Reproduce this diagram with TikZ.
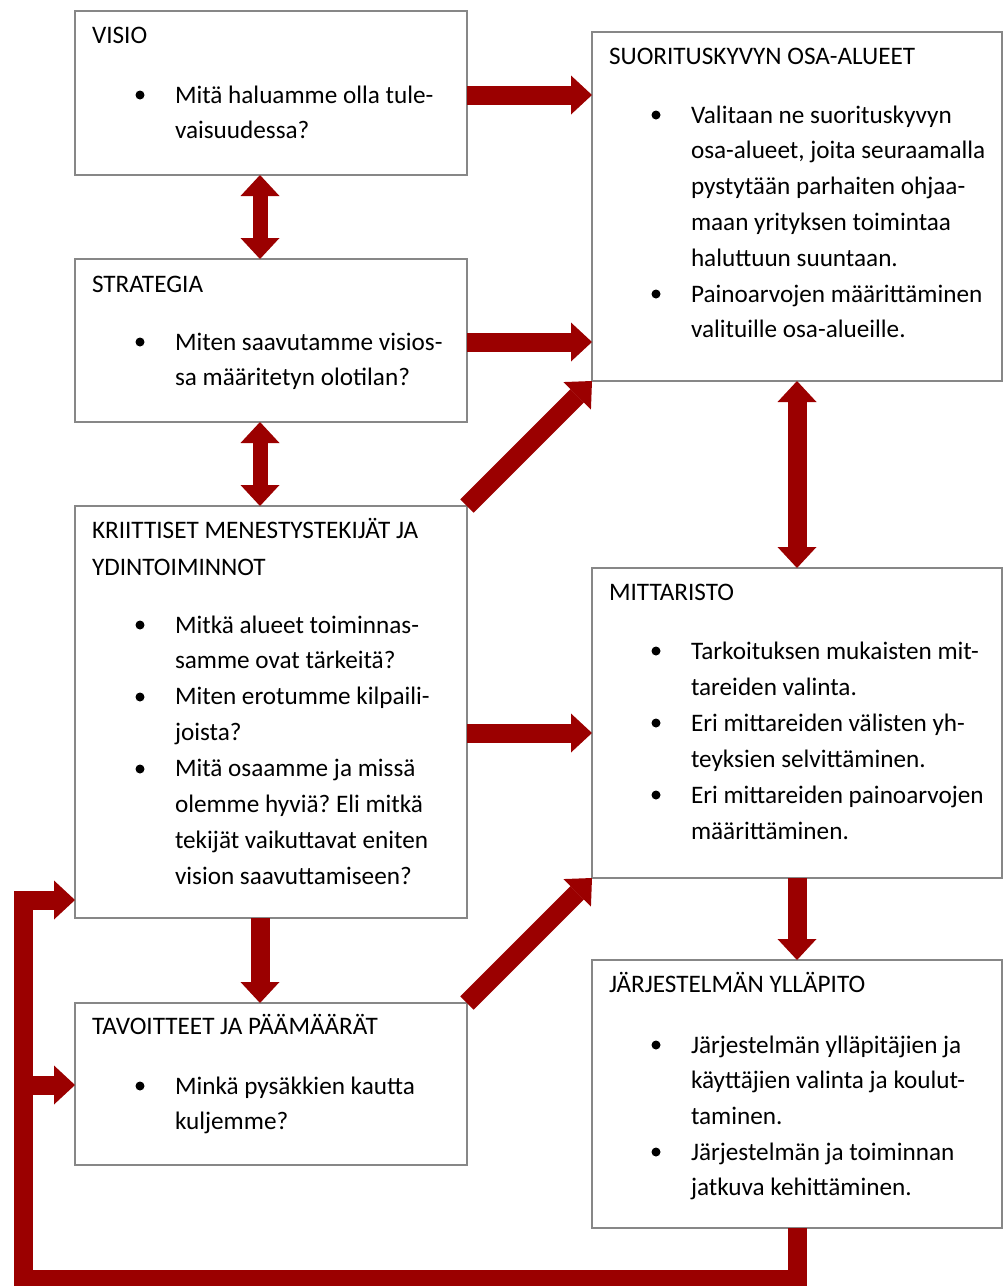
\documentclass[tikz,border=0pt]{standalone}
\usepackage{fontspec}
\setmainfont{Carlito}
\usetikzlibrary{arrows.meta}
\definecolor{arr}{RGB}{155,0,0}
\definecolor{frame}{RGB}{135,135,135}
\frenchspacing
\newcommand\txtlines[5]{%
  \foreach \t [count=\i from 0] in {#4}
    \node[txt] (#1-\i) at (#2,#3+#5*\i) {\t};}
\begin{document}
\begin{tikzpicture}[x=0.5pt,y=-0.5pt,
  box/.style={draw=frame, line width=0.75pt, fill=white, inner sep=0pt, outer sep=0pt, anchor=north west},
  txt/.style={anchor=base west, inner sep=0pt, outer sep=0pt, font=\fontsize{12.6pt}{15pt}\selectfont\frenchspacing},
  bigtip/.tip={Triangle[width=19.5pt,length=10.5pt,line width=0pt]},
  fat/.style={draw=arr, line width=9.5pt, line join=miter, -{bigtip}},
  fatdbl/.style={draw=arr, line width=9.5pt, {bigtip}-{bigtip}},
  slimdbl/.style={draw=arr, line width=7.5pt, {bigtip}-{bigtip}},
  dot/.style={fill=black}
]
\useasboundingbox (0,0) rectangle (1003,1286);

% boxes
\node[box, minimum width=196pt, minimum height=82pt]   (V)  at (75,11) {};
\node[box, minimum width=196pt, minimum height=81.5pt] (St) at (75,259) {};
\node[box, minimum width=196pt, minimum height=206pt]  (K)  at (75,506) {};
\node[box, minimum width=196pt, minimum height=81pt]   (T)  at (75,1003) {};
\node[box, minimum width=205pt, minimum height=174.5pt](S)  at (592,32) {};
\node[box, minimum width=205pt, minimum height=155pt]  (M)  at (592,568) {};
\node[box, minimum width=205pt, minimum height=134pt]  (J)  at (592,960) {};

% helper coordinates
\coordinate (lc) at (260,0);
\coordinate (r1) at (0,95);
\coordinate (r2) at (0,342);
\coordinate (r3) at (0,733);
\coordinate (lb) at (23,1279);
\coordinate (lt) at (23,900);
\coordinate (lm) at (23,1085);

% texts left column
\node[txt] (Vt) at (92,43) {VISIO};
\txtlines{Vl}{175}{103}{Mitä haluamme olla tule-,vaisuudessa?}{35.7}
\fill[dot] (140,95) circle[radius=2.25pt];

\node[txt] (Stt) at (92,292) {STRATEGIA};
\txtlines{Stl}{175}{350}{Miten saavutamme visios-,sa määritetyn olotilan?}{35.7}
\fill[dot] (140,342) circle[radius=2.25pt];

\txtlines{Kt}{92}{538}{KRIITTISET MENESTYSTEKIJÄT JA,YDINTOIMINNOT}{37}
\txtlines{Kl}{175}{633}{Mitkä alueet toiminnas-,samme ovat tärkeitä?,Miten erotumme kilpaili-,joista?,Mitä osaamme ja missä,olemme hyviä? Eli mitkä,tekijät vaikuttavat eniten,vision saavuttamiseen?}{35.9}
\fill[dot] (140,625) circle[radius=2.25pt];
\fill[dot] (140,697) circle[radius=2.25pt];
\fill[dot] (140,769) circle[radius=2.25pt];

\node[txt] (Tt) at (92,1034) {TAVOITTEET JA PÄÄMÄÄRÄT};
\txtlines{Tl}{175}{1094}{Minkä pysäkkien kautta,kuljemme?}{35.7}
\fill[dot] (140,1086) circle[radius=2.25pt];

% texts right column
\node[txt] (St0) at (609,64) {SUORITUSKYVYN OSA-ALUEET};
\txtlines{Sl}{691}{123}{Valitaan ne suorituskyvyn,{osa-alueet, joita seuraamalla},pystytään parhaiten ohjaa-,maan yrityksen toimintaa,haluttuun suuntaan.,Painoarvojen määrittäminen,valituille osa-alueille.}{35.8}
\fill[dot] (656,115) circle[radius=2.25pt];
\fill[dot] (656,294) circle[radius=2.25pt];

\node[txt] (Mt) at (609,600) {MITTARISTO};
\txtlines{Ml}{691}{659}{Tarkoituksen mukaisten mit-,tareiden valinta.,Eri mittareiden välisten yh-,teyksien selvittäminen.,Eri mittareiden painoarvojen,määrittäminen.}{36}
\fill[dot] (656,651) circle[radius=2.25pt];
\fill[dot] (656,723) circle[radius=2.25pt];
\fill[dot] (656,795) circle[radius=2.25pt];

\node[txt] (Jt) at (609,992) {JÄRJESTELMÄN YLLÄPITO};
\txtlines{Jl}{691}{1053}{Järjestelmän ylläpitäjien ja,käyttäjien valinta ja koulut-,taminen.,Järjestelmän ja toiminnan,jatkuva kehittäminen.}{35.7}
\fill[dot] (656,1045) circle[radius=2.25pt];
\fill[dot] (656,1152) circle[radius=2.25pt];

% connectors
\draw[fat] (V.east |- r1) -- (S.west |- r1);
\draw[fat] (St.east |- r2) -- (S.west |- r2);
\draw[fat] (K.east |- r3) -- (M.west |- r3);
\draw[slimdbl] (V.south -| lc) -- (St.north -| lc);
\draw[slimdbl] (St.south -| lc) -- (K.north -| lc);
\draw[fat] (K.south -| lc) -- (T.north -| lc);
\draw[fat] (K.north east) -- (S.south west);
\draw[fat] (T.north east) -- (M.south west);
\draw[fatdbl] (S.south) -- (M.north);
\draw[fat] (M.south) -- (J.north);
\draw[fat] (J.south) -- (J.south |- lb) -- (lb) -- (lt) -- (K.west |- lt);
\draw[fat] (lm) -- (T.west |- lm);
\end{tikzpicture}
\end{document}
